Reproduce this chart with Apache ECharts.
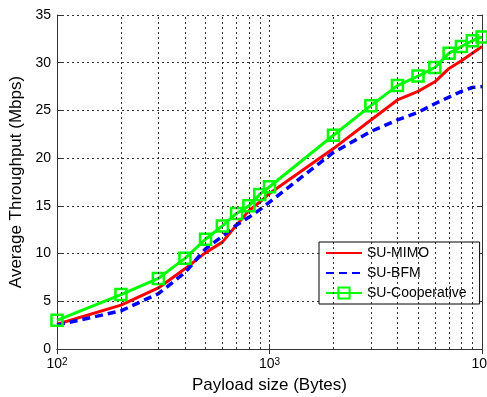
<!DOCTYPE html>
<html>
<head>
<meta charset="utf-8">
<script src="https://cdn.jsdelivr.net/npm/echarts@6/dist/echarts.min.js"></script>
<style>
html,body{margin:0;padding:0;background:#fff;}
#chart{width:487px;height:397px;}
</style>
</head>
<body>
<div id="chart"></div>
<script>
var payload = [100,200,300,400,500,600,700,800,900,1000,2000,3000,4000,5000,6000,7000,8000,9000,10000];
var suMimo = [2.6,4.6,6.4,8.4,10.1,11.2,13.0,14.5,15.4,16.3,21.0,24.0,26.1,27.0,28.0,29.4,30.2,31.0,31.7];
var suBfm = [2.5,4.0,5.8,8.0,10.5,11.8,13.0,13.8,14.6,15.4,20.6,22.8,24.0,24.8,25.7,26.4,27.0,27.4,27.5];
var suCoop = [3.0,5.7,7.4,9.5,11.5,12.9,14.2,15.0,16.2,17.0,22.4,25.5,27.6,28.6,29.5,31.0,31.7,32.3,32.7];
var minorGridX = [200,300,400,500,600,700,800,900,2000,3000,4000,5000,6000,7000,8000,9000];
var seriesNames = ['SU-MIMO','SU-BFM','SU-Cooperative'];
var xTitle = 'Payload size (Bytes)';
var yTitle = 'Average Throughput (Mbps)';

function pairs(xs, ys){ return xs.map(function(x,i){ return [x, ys[i]]; }); }

var FONT = '"Liberation Sans", Arial, sans-serif';
var gridDash = {color:'#000', width:0.8, type:[2,3]};
var noSymbol = {color:'rgba(0,0,0,0)', borderWidth:0, borderColor:'rgba(0,0,0,0)', opacity:0};
var chart = echarts.init(document.getElementById('chart'), null, {renderer:'canvas'});
chart.setOption({
  animation:false,
  backgroundColor:'#fff',
  textStyle:{fontFamily:FONT},
  grid:{left:57, right:5, top:15, bottom:48, containLabel:false, outerBoundsMode:'none'},
  xAxis:[{
    type:'log', logBase:10, min:100, max:10000,
    name:xTitle, nameLocation:'middle', nameGap:28,
    nameTextStyle:{fontSize:17, color:'#000', fontFamily:FONT},
    axisLine:{show:true, lineStyle:{color:'#333', width:1}},
    axisTick:{show:true, inside:true, length:5, lineStyle:{color:'#333'}},
    splitLine:{show:true, lineStyle:gridDash},
    axisLabel:{
      color:'#000', fontSize:14, margin:8, fontFamily:FONT, hideOverlap:false,
      formatter:function(v){ var e=Math.round(Math.log10(v)); return '10{sup|'+e+'}'; },
      rich:{sup:{fontSize:10, verticalAlign:'top', lineHeight:10, fontFamily:FONT, color:'#000'}}
    }
  },{
    type:'log', logBase:10, min:100, max:10000, position:'top',
    axisLine:{show:true, lineStyle:{color:'#333', width:1}},
    axisTick:{show:true, inside:true, length:5, lineStyle:{color:'#333'}},
    axisLabel:{show:false}, splitLine:{show:false}
  }],
  yAxis:[{
    type:'value', min:0, max:35, interval:5,
    name:yTitle, nameLocation:'middle', nameGap:28,
    nameTextStyle:{fontSize:17, color:'#000', fontFamily:FONT},
    axisLine:{show:true, lineStyle:{color:'#333', width:1}},
    axisTick:{show:true, inside:true, length:5, lineStyle:{color:'#333'}},
    splitLine:{show:true, lineStyle:gridDash},
    axisLabel:{color:'#000', fontSize:14, margin:6, fontFamily:FONT}
  },{
    type:'value', min:0, max:35, interval:5, position:'right',
    axisLine:{show:true, lineStyle:{color:'#333', width:1}},
    axisTick:{show:true, inside:true, length:5, lineStyle:{color:'#333'}},
    axisLabel:{show:false}, splitLine:{show:false}
  }],
  legend:{
    data:[
      {name:seriesNames[0], itemStyle:noSymbol},
      {name:seriesNames[1], itemStyle:noSymbol},
      {name:seriesNames[2]}
    ],
    orient:'vertical', left:319, top:242,
    backgroundColor:'#fff', borderColor:'#000', borderWidth:1, borderRadius:0,
    padding:[4,13,4,6], itemGap:6, itemWidth:36, itemHeight:14,
    textStyle:{fontSize:14, color:'#000', fontFamily:FONT}
  },
  series:[
    {
      name:'grid', type:'line', data:[[100,0]], symbol:'none',
      lineStyle:{opacity:0}, silent:true, z:1,
      markLine:{silent:true, symbol:['none','none'], label:{show:false},
        lineStyle:gridDash, emphasis:{disabled:true},
        data:minorGridX.map(function(x){ return {xAxis:x}; })}
    },
    {
      name:seriesNames[0], type:'line', data:pairs(payload,suMimo), symbol:'none', z:3,
      lineStyle:{color:'#ff0000', width:3}, itemStyle:{color:'#ff0000'}
    },
    {
      name:seriesNames[1], type:'line', data:pairs(payload,suBfm), symbol:'none', z:3,
      lineStyle:{color:'#0000ff', width:3.5, type:[8,5]}, itemStyle:{color:'#0000ff'}
    },
    {
      name:seriesNames[2], type:'line', data:pairs(payload,suCoop), z:4,
      symbol:'rect', symbolSize:11, showAllSymbol:true,
      lineStyle:{color:'#00ff00', width:3},
      itemStyle:{color:'rgba(255,255,255,0)', borderColor:'#00ff00', borderWidth:2.5}
    }
  ]
});
</script>
</body>
</html>
